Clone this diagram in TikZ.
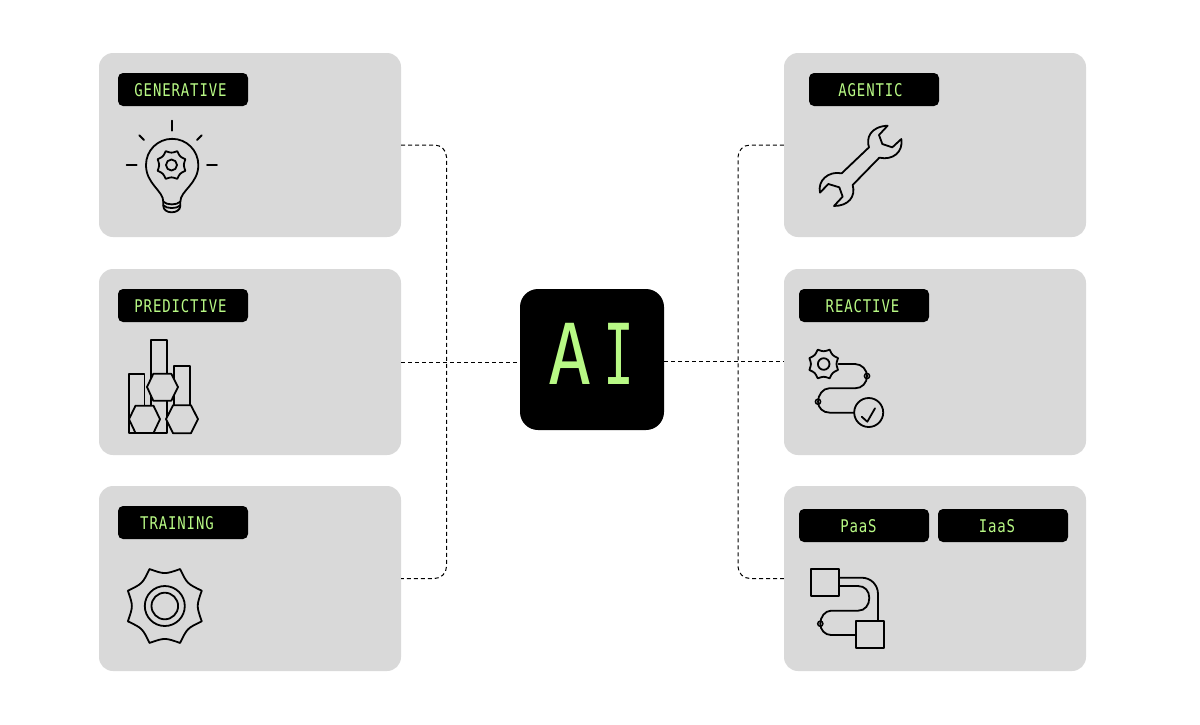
\documentclass[tikz,border=0pt]{standalone}
\usepackage{fontspec}
\usepackage{graphicx}
\newfontfamily\tagfont[FakeStretch=0.8,LetterSpace=5]{DejaVu Sans Mono}
\newfontfamily\hubfont[FakeStretch=0.85]{DejaVu Sans Mono}
\definecolor{panelgrey}{HTML}{D9D9D9}
\definecolor{lime}{HTML}{B8F985}
\tikzset{
  panel/.style={rectangle,fill=panelgrey,rounded corners=14pt,minimum width=302pt,minimum height=#1,inner sep=0pt},
  panel/.default=184pt,
  tagbox/.style={rectangle,fill=black,rounded corners=5pt,minimum width=130pt,minimum height=33pt,inner sep=0pt,text=lime,text height=15pt,font=\tagfont\fontsize{17.5pt}{18pt}\selectfont},
  hubbox/.style={rectangle,fill=black,rounded corners=18pt,minimum width=144pt,minimum height=141pt,inner sep=0pt,text=lime,font=\hubfont\fontsize{84pt}{84pt}\selectfont},
  link/.style={line width=1pt,dash pattern=on 4pt off 3pt,rounded corners=12pt},
  icon/.style={line width=1.8pt,line cap=round,line join=round},
  bead/.style={line width=1.5pt},
}
\newcommand{\gearicon}[3]{%
  \begin{scope}[shift={(#1,#2)}]
    \draw[icon] (22.5:#3) \foreach \a in {22.5,67.5,...,337.5} { .. controls ({\a+22.5}:{#3*0.79}) .. ({\a+45}:#3) } -- cycle;
  \end{scope}}
\begin{document}
\begin{tikzpicture}[x=1pt,y=-1pt]
\path[use as bounding box] (0,0) rectangle (1200,724);
% panels
\node[panel] (gen) at (250,145) {};
\node[panel=186pt] (pred) at (250,362) {};
\node[panel=185pt] (train) at (250,578.5) {};
\node[panel] (agent) at (935,145) {};
\node[panel=186pt] (react) at (935,362) {};
\node[panel=185pt] (cloud) at (935,578.5) {};
\node[hubbox] (hub) at (592,359.5) {\kern-0.9pt A\kern11.2pt\scalebox{0.72}[1]{I}\rule[-12pt]{0pt}{12pt}};
% trunks
\coordinate (trunkL) at (446.5,362);
\coordinate (trunkR) at (738,361);
\draw[link] (gen.east) -- (gen.east -| trunkL) -- (train.east -| trunkL) -- (train.east);
\draw[link] (pred.east) -- (pred.east -| hub.west);
\draw[link] (agent.west) -- (agent.west -| trunkR) -- (cloud.west -| trunkR) -- (cloud.west);
\draw[link] (hub.east |- trunkR) -- (react.west |- trunkR);
% tags
\node[tagbox] (tgen) at (183,89.5) {GENERATIVE\kern5pt};
\node[tagbox] (tpred) at (183,305.5) {PREDICTIVE\kern5pt};
\node[tagbox] (ttrain) at (183,522.5) {TRAINING\kern12pt};
\node[tagbox] (tagent) at (874,89.5) {AGENTIC\kern7pt};
\node[tagbox] (treact) at (864,305.5) {REACTIVE\kern3pt};
\node[tagbox] (tpaas) at (864,525.5) {PaaS\kern11pt};
\node[tagbox] (tiaas) at (1003,525.5) {IaaS\kern12pt};
% bulb
\begin{scope}[shift={(100,60)},scale=0.3333]
  \draw[icon] (190,425) .. controls (190,392) and (138,372) .. (138,315)
     .. controls (138,271.6) and (173,236.5) .. (216.5,236.5)
     .. controls (260,236.5) and (295,271.6) .. (295,315)
     .. controls (295,372) and (241,392) .. (241,425)
     -- (241,438) .. controls (241,450) and (228,457) .. (215,457) .. controls (202,457) and (190,450) .. (190,438) -- cycle;
  \draw[icon] (190,425) .. controls (200,436) and (231,436) .. (241,425);
  \draw[icon] (190,436) .. controls (200,447) and (231,447) .. (241,436);
  \draw[icon] (215,182) -- (215,212);
  \draw[icon] (80,315) -- (110,315);
  \draw[icon] (321,315) -- (351,315);
  \draw[icon] (118,226) -- (132,240);
  \draw[icon] (305,226) -- (291,240);
\end{scope}
\gearicon{171.5}{165}{15}
\draw[icon] (171.5,165) circle[radius=5.5];
% predictive
\draw[icon] (151.3,405) -- (151.3,340) -- (167.3,340) -- (167.3,433.3) -- (129,433.3) -- (129,374) -- (144.5,374) -- (144.5,405);
\draw[icon] (174,405) -- (174,366) -- (190,366) -- (190,405);
\draw[icon,fill=panelgrey] (147,387) -- (153.3,373.8) -- (171.3,373.8) -- (178,387) -- (171.3,400.7) -- (153.3,400.7) -- cycle;
\draw[icon,fill=panelgrey] (129,419.2) -- (135.5,405.7) -- (153.5,405.7) -- (160,419.2) -- (153.5,432.9) -- (135.5,432.9) -- cycle;
\draw[icon,fill=panelgrey] (166,419.2) -- (173,405.3) -- (191,405.3) -- (198,419.2) -- (191,433.2) -- (173,433.2) -- cycle;
% training
\gearicon{164.8}{606}{40}
\draw[icon] (164.8,606) circle[radius=20];
\draw[icon] (164.8,606) circle[radius=13.3];
% wrench
\begin{scope}[shift={(790,60)},scale=0.3333]
  \draw[icon] (155,340) -- (237,262) .. controls (228,235) and (240,200) .. (293,197)
    -- (267,225) -- (277,252) -- (307,262) -- (334,237)
    .. controls (340,275) and (310,302) .. (268,293)
    -- (188,375) .. controls (198,410) and (175,438) .. (132,438)
    -- (158,410) -- (148,382) -- (115,372) -- (90,398)
    .. controls (82,362) and (115,332) .. (155,340) -- cycle;
\end{scope}
% reactive
\gearicon{823.7}{364}{15.5}
\draw[icon] (823.7,364) circle[radius=5.8];
\draw[icon] (838.5,364) -- (855,364) .. controls (862,364) and (867,370) .. (867,376)
  .. controls (867,383) and (862,388.3) .. (855,388.3) -- (829,388.3)
  .. controls (823,388.3) and (818,395) .. (818,401.7)
  .. controls (818,408) and (823,412.7) .. (830,412.7) -- (854,412.7);
\draw[bead] (867,376) circle[radius=2.6];
\draw[bead] (818,401.7) circle[radius=2.6];
\draw[icon] (868.7,412.5) circle[radius=14.5];
\draw[icon] (861.7,416.7) -- (867.3,421.7) -- (875,408.3);
% cloud
\draw[icon] (810.7,569) rectangle (839.3,596);
\draw[icon] (856,621) rectangle (884.3,648);
\draw[icon] (839.3,577.7) -- (861.7,577.7) .. controls (871,577.7) and (878,585) .. (878,594) -- (878,621);
\draw[icon] (839.3,586) -- (858,586) .. controls (865,586) and (869.3,591) .. (869.3,598)
  .. controls (869.3,605) and (865,610.7) .. (858,610.7) -- (831,610.7)
  .. controls (825,610.7) and (820.3,617) .. (820.3,623.7)
  .. controls (820.3,630) and (825,635) .. (831,635) -- (856,635);
\draw[bead] (820.3,623.7) circle[radius=2.6];
\end{tikzpicture}
\end{document}
